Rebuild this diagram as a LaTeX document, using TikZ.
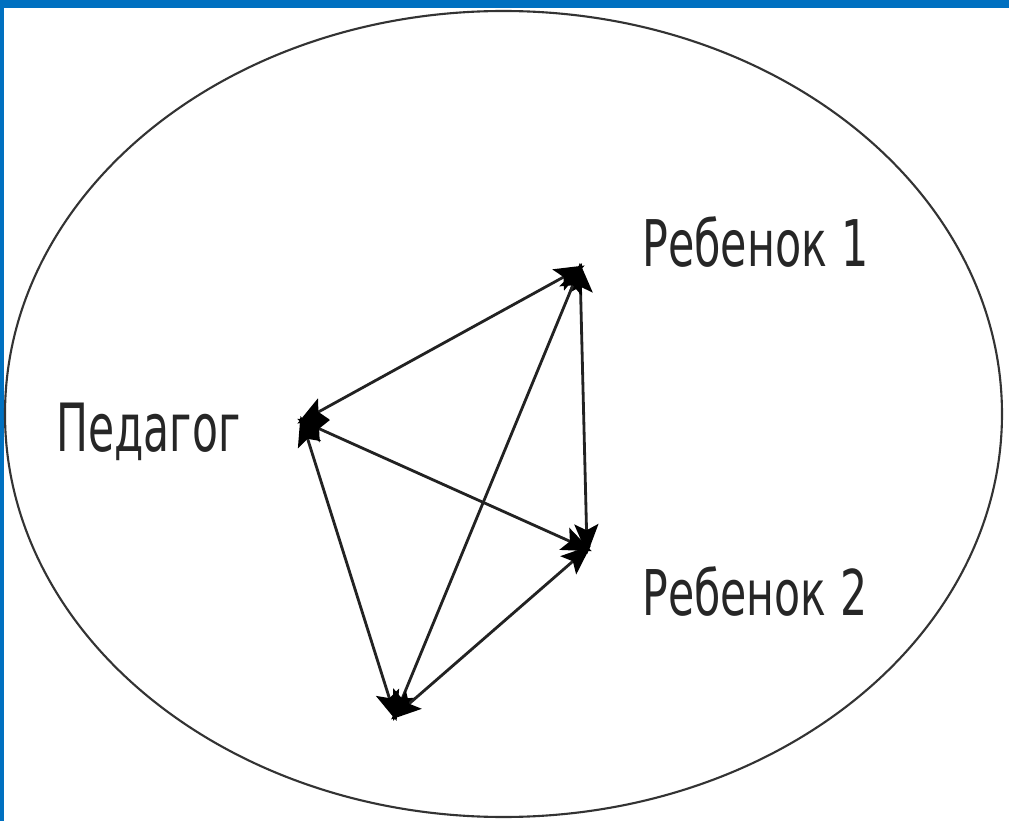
\documentclass[tikz,border=0pt]{standalone}
\usepackage{fontspec}
\setmainfont{DejaVu Sans}
\usetikzlibrary{arrows.meta}
\definecolor{frameblue}{HTML}{0070C0}
\definecolor{linegray}{HTML}{222222}
\begin{document}
\begin{tikzpicture}[x=0.02cm,y=-0.02cm,
  tipstyle/.style={},
  conn/.style={draw=linegray,line width=1.6pt,
    {Stealth[length=0.6cm,width=0.48cm,inset=0.12cm,black]}-{Stealth[length=0.6cm,width=0.48cm,inset=0.12cm,black]},shorten <=-3pt,shorten >=-3pt},
  lbl/.style={anchor=base west,inner sep=0pt,text=black!85}]
\useasboundingbox (0,0) rectangle (1009,821);
\fill[white] (0,0) rectangle (1009,821);
\fill[frameblue] (0,0) rectangle (1009,8);
\fill[frameblue] (0,0) rectangle (4,821);
\draw[line width=1.2pt,draw=black!80] (503.5,414) ellipse [x radius=498.5,y radius=403];
\coordinate (P) at (302,421);
\coordinate (R1) at (580,268);
\coordinate (R2) at (587,549);
\coordinate (B) at (395,716);
\draw[conn] (P) -- (R1);
\draw[conn] (P) -- (R2);
\draw[conn] (P) -- (B);
\draw[conn] (R1) -- (R2);
\draw[conn] (R1) -- (B);
\draw[conn] (R2) -- (B);
\node[lbl] (tP) at (56,452) {\resizebox{3.68cm}{0.97cm}{Педагог}};
\node[lbl] (tR1) at (642,267) {\resizebox{4.52cm}{1.0cm}{Ребенок 1}};
\node[lbl] (tR2) at (642,615) {\resizebox{4.5cm}{0.98cm}{Ребенок 2}};
\end{tikzpicture}
\end{document}
